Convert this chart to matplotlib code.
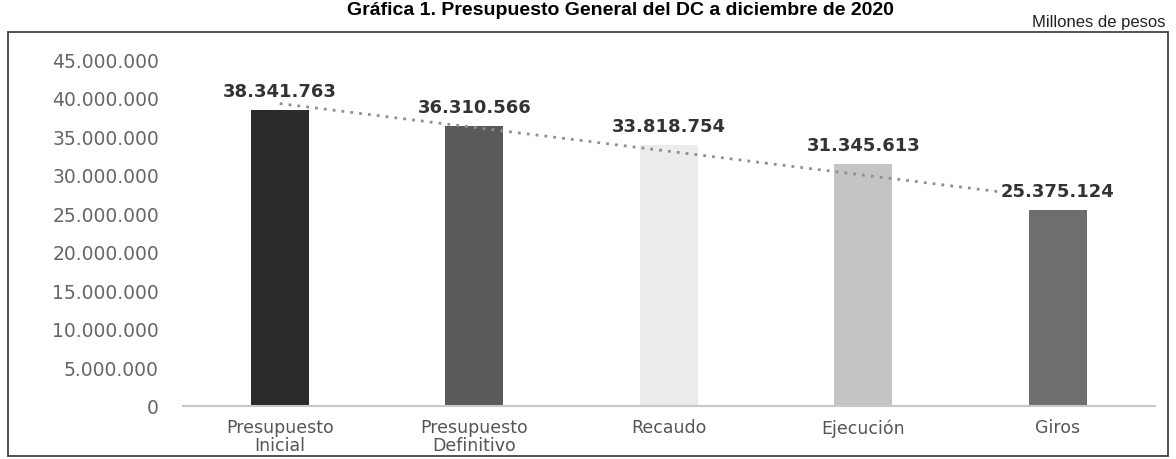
import numpy as np
import matplotlib
matplotlib.use("Agg")
import matplotlib.pyplot as plt
from matplotlib.patches import Rectangle
from matplotlib.ticker import FuncFormatter

categorias = ["Presupuesto\nInicial", "Presupuesto\nDefinitivo", "Recaudo", "Ejecución", "Giros"]
valores = [38341763, 36310566, 33818754, 31345613, 25375124]
colores = ["#2b2b2b", "#5a5a5a", "#ececec", "#c4c4c4", "#6e6e6e"]

fig = plt.figure(figsize=(11.76, 4.6), dpi=100)
ax = fig.add_axes([182.5 / 1176, 53 / 460, 972.5 / 1176, 347 / 460])

x = np.arange(len(valores))
ax.bar(x, valores, width=0.3, color=colores, zorder=2)

# linea de tendencia lineal
m, b = np.polyfit(x, valores, 1)
ax.plot(x, m * x + b, linestyle=(0, (1, 2.2)), color="#8f8f8f", lw=2.0, zorder=3)

for xi, v in zip(x, valores):
    ax.annotate(f"{v:,}".replace(",", "."), (xi, v), xytext=(0, 14), textcoords="offset points",
                ha="center", va="center", fontsize=13, fontweight="bold", color="#333333",
                bbox=dict(boxstyle="square,pad=0.1", fc="white", ec="none"), zorder=4)

ax.set_xlim(-0.5, 4.5)
ax.set_ylim(0, 45000000)
ax.set_yticks(np.arange(0, 45000001, 5000000))
ax.yaxis.set_major_formatter(FuncFormatter(lambda v, p: f"{int(v):,}".replace(",", ".")))
ax.set_xticks(x)
ax.set_xticklabels(categorias, linespacing=1.0)
ax.tick_params(axis="y", length=0, pad=17, labelsize=13.5, labelcolor="#666666")
ax.tick_params(axis="x", length=0, pad=9, labelsize=12.5, labelcolor="#555555")
for s in ["top", "right", "left"]:
    ax.spines[s].set_visible(False)
ax.spines["bottom"].set_color("#c8c8c8")
ax.spines["bottom"].set_linewidth(1.5)

fig.text(620 / 1176, 1 - 2 / 460, "Gráfica 1. Presupuesto General del DC a diciembre de 2020",
         ha="center", va="top", fontsize=14, fontweight="bold", family="Liberation Sans")
fig.text(1165 / 1176, 1 - 22 / 460, "Millones de pesos", ha="right", va="center",
         fontsize=12, family="Liberation Sans", color="#222222")

fig.patches.append(Rectangle((8 / 1176, 3 / 460), 1160 / 1176, 424 / 460, transform=fig.transFigure,
                             fill=False, ec="#444444", lw=1.3))

fig.savefig("out.png", dpi=100)
